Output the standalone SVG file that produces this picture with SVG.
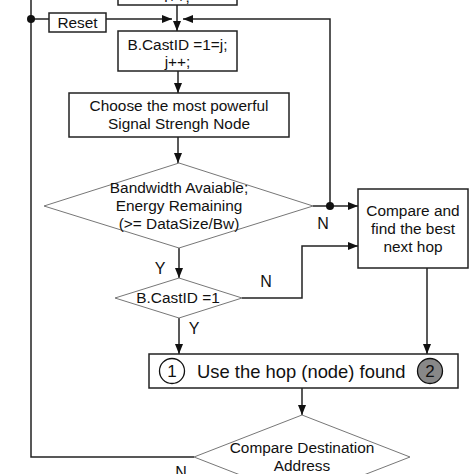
<svg xmlns="http://www.w3.org/2000/svg" width="474" height="474" viewBox="0 0 474 474">
<style>
.box{fill:#fff;stroke:#222;stroke-width:1.5}
.dia{fill:#fff;stroke:#777;stroke-width:1}
.ln{fill:none;stroke:#222;stroke-width:1.5}
text{font-family:"Liberation Sans",Arial,sans-serif;fill:#111}
.c{text-anchor:middle}
.t{font-size:15.4px}
.l{font-size:16px}
.big{font-size:18.4px}
.num{font-size:17px}
</style>
<defs>
<marker id="ah" viewBox="0 0 10 8" refX="10" refY="4" markerWidth="10" markerHeight="8" markerUnits="userSpaceOnUse" orient="auto">
<path d="M0,0L10,4L0,8z" fill="#111"/>
</marker>
</defs>
<rect width="474" height="474" fill="#fff"/>
<g id="connectors">
<path class="ln" d="M31,0V457H194"/>
<path class="ln" d="M31,19H49"/>
<path class="ln" d="M106,19H172" marker-end="url(#ah)"/>
<path class="ln" d="M330,206V19H183" marker-end="url(#ah)"/>
<path class="ln" d="M177,5V31" marker-end="url(#ah)"/>
<path class="ln" d="M178,71V93" marker-end="url(#ah)"/>
<path class="ln" d="M178,137V163" marker-end="url(#ah)"/>
<path class="ln" d="M313,206H358" marker-end="url(#ah)"/>
<path class="ln" d="M179,248V278" marker-end="url(#ah)"/>
<path class="ln" d="M242,298H302V246H358" marker-end="url(#ah)"/>
<path class="ln" d="M179,318V354" marker-end="url(#ah)"/>
<path class="ln" d="M427,268V354" marker-end="url(#ah)"/>
<path class="ln" d="M302,388V415" marker-end="url(#ah)"/>
<circle cx="31" cy="19" r="4" fill="#111"/>
<circle cx="330" cy="206" r="4" fill="#111"/>
<text x="323" y="229" class="c l">N</text>
<text x="160" y="274" class="c l">Y</text>
<text x="266" y="287" class="c l">N</text>
<text x="194" y="334" class="c l">Y</text>
<text x="181" y="478" class="c l">N</text>
</g>
<g id="top">
<rect class="box" x="118" y="-30" width="119" height="35"/>
<text x="177" y="2" class="c t">i++;</text>
</g>
<g id="reset">
<rect class="box" x="49" y="13" width="57" height="19"/>
<text x="77.5" y="28" class="c t">Reset</text>
</g>
<g id="bcast">
<rect class="box" x="118" y="31" width="119" height="40"/>
<text x="177.5" y="50" class="c t">B.CastID =1=j;</text>
<text x="177.5" y="67" class="c t">j++;</text>
</g>
<g id="choose">
<rect class="box" x="69" y="93" width="220" height="44"/>
<text x="179" y="111" class="c t">Choose the most powerful</text>
<text x="179" y="129" class="c t">Signal Strengh Node</text>
</g>
<g id="bw">
<polygon class="dia" points="179,163 313,206 179,248 44,206"/>
<text x="179" y="193" class="c t">Bandwidth Avaiable;</text>
<text x="179" y="211" class="c t">Energy Remaining</text>
<text x="179" y="229" class="c t">(&gt;= DataSize/Bw)</text>
</g>
<g id="compare">
<rect class="box" x="358" y="189" width="110" height="79"/>
<text x="413" y="216" class="c t">Compare and</text>
<text x="413" y="234" class="c t">find the best</text>
<text x="413" y="252" class="c t">next hop</text>
</g>
<g id="bcast1">
<polygon class="dia" points="179,278 242,298 179,318 115,298"/>
<text x="178" y="303" class="c t">B.CastID =1</text>
</g>
<g id="use">
<rect class="box" x="149" y="354" width="309" height="34"/>
<circle cx="172" cy="371" r="12.5" fill="#fff" stroke="#111" stroke-width="1.3"/>
<text x="172" y="377" class="c num">1</text>
<text x="197" y="378" class="big">Use the hop (node) found</text>
<circle cx="430" cy="371" r="12.5" fill="#888" stroke="#111" stroke-width="1.3"/>
<text x="430" y="377" class="c num">2</text>
</g>
<g id="dest">
<polygon class="dia" points="302,415 410,457 302,499 194,457"/>
<text x="302" y="453" class="c t">Compare Destination</text>
<text x="302" y="471" class="c t">Address</text>
</g>
</svg>
